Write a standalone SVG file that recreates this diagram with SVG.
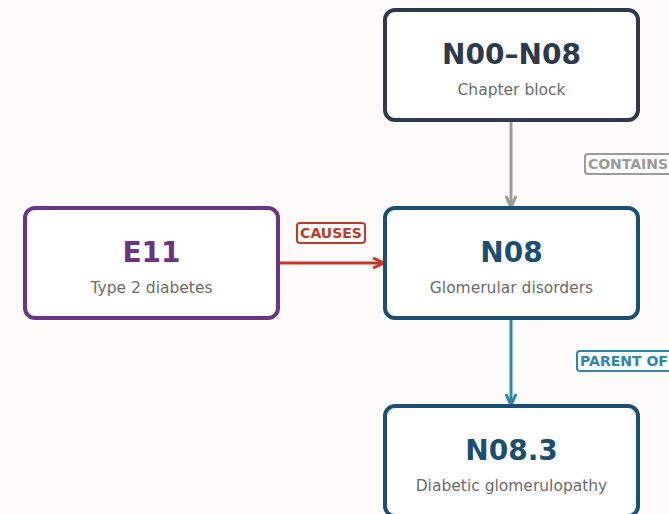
<svg xmlns="http://www.w3.org/2000/svg" width="669" height="514" viewBox="0 0 669 514">
<defs>
<style>
.box{fill:#ffffff;stroke-width:4}
.t{font-family:"DejaVu Sans",sans-serif;font-weight:bold;font-size:28px;text-anchor:middle}
.s{font-family:"DejaVu Sans",sans-serif;font-size:15.5px;fill:#6b6b6b;text-anchor:middle}
.lbl{font-family:"DejaVu Sans",sans-serif;font-weight:bold;font-size:14px;text-anchor:middle}
.lb{fill:#ffffff;stroke-width:2}
</style>
<marker id="mg" markerWidth="16" markerHeight="12" refX="13" refY="6" orient="auto" markerUnits="userSpaceOnUse"><path d="M2,1 L13,6 L2,11" fill="none" stroke="#9a9a9a" stroke-width="3"/></marker>
<marker id="mr" markerWidth="16" markerHeight="12" refX="13" refY="6" orient="auto" markerUnits="userSpaceOnUse"><path d="M2,1 L13,6 L2,11" fill="none" stroke="#c0392b" stroke-width="3"/></marker>
<marker id="mb" markerWidth="16" markerHeight="12" refX="13" refY="6" orient="auto" markerUnits="userSpaceOnUse"><path d="M2,1 L13,6 L2,11" fill="none" stroke="#2e86ab" stroke-width="3"/></marker>
</defs>
<rect width="669" height="514" fill="#fcfbfa"/>
<g id="connectors">
<line x1="511" y1="121" x2="511" y2="207" stroke="#9a9a9a" stroke-width="3" marker-end="url(#mg)"/>
<line x1="279" y1="263" x2="384" y2="263" stroke="#c0392b" stroke-width="3" marker-end="url(#mr)"/>
<line x1="511" y1="319" x2="511" y2="405" stroke="#2e86ab" stroke-width="3" marker-end="url(#mb)"/>
<g id="label-contains"><rect class="lb" x="585" y="154" width="90" height="20" rx="3" stroke="#9a9a9a"/><text class="lbl" x="628" y="169" fill="#9a9a9a">CONTAINS</text></g>
<g id="label-causes"><rect class="lb" x="297" y="223" width="68" height="20" rx="3" stroke="#c0392b"/><text class="lbl" x="331" y="238" fill="#c0392b">CAUSES</text></g>
<g id="label-parent"><rect class="lb" x="577" y="351" width="98" height="20" rx="3" stroke="#2e86ab"/><text class="lbl" x="624" y="366" fill="#2e86ab">PARENT OF</text></g>
</g>
<g id="n00-n08"><rect class="box" x="385" y="10" width="253" height="110" rx="10" stroke="#2c3a4b"/><text class="t" x="511.5" y="64" fill="#2c3a4b">N00–N08</text><text class="s" x="511.5" y="95">Chapter block</text></g>
<g id="n08"><rect class="box" x="385" y="208" width="253" height="110" rx="10" stroke="#1b4f72"/><text class="t" x="511.5" y="262" fill="#1b4f72">N08</text><text class="s" x="511.5" y="293">Glomerular disorders</text></g>
<g id="e11"><rect class="box" x="25" y="208" width="253" height="110" rx="10" stroke="#6c3483"/><text class="t" x="151.5" y="262" fill="#6c3483">E11</text><text class="s" x="151.5" y="293">Type 2 diabetes</text></g>
<g id="n08-3"><rect class="box" x="385" y="406" width="253" height="110" rx="10" stroke="#1b4f72"/><text class="t" x="511.5" y="460" fill="#1b4f72">N08.3</text><text class="s" x="511.5" y="491">Diabetic glomerulopathy</text></g>
</svg>
